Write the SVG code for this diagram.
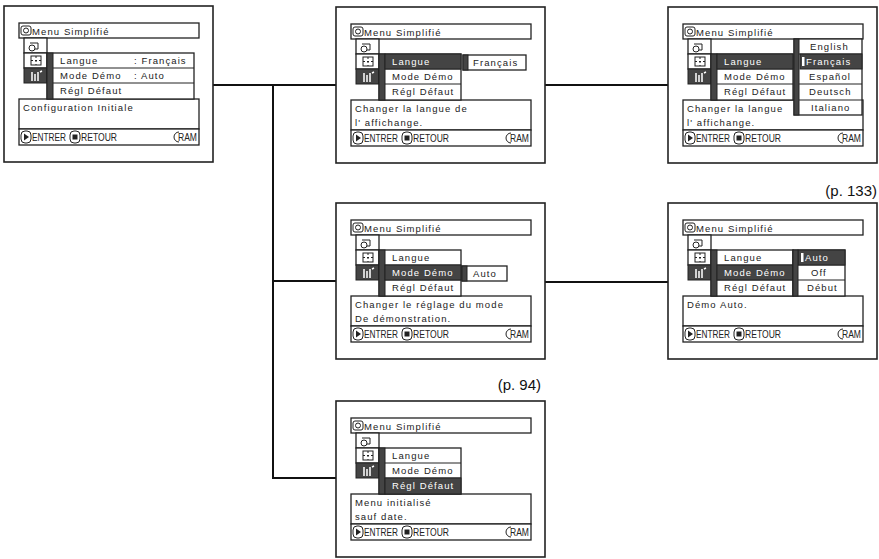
<svg xmlns="http://www.w3.org/2000/svg" xmlns:xlink="http://www.w3.org/1999/xlink" width="879" height="559" viewBox="0 0 879 559">
<style>
.b{fill:#fff;stroke:#222;stroke-width:1.3}
.o{fill:#fff;stroke:#222;stroke-width:1.6}
.d{fill:#444;stroke:#222;stroke-width:1}
.t{font-family:"Liberation Sans",Arial,sans-serif;font-size:9.5px;letter-spacing:1.1px;fill:#222}
.w{fill:#fff}
.f{font-family:"Liberation Sans",Arial,sans-serif;font-size:10.5px;fill:#222}
.c{fill:none;stroke:#111;stroke-width:2}
.p{font-family:"Liberation Sans",Arial,sans-serif;font-size:15px;fill:#111}
</style>
<defs>
<g id="base">
<rect class="o" x="0" y="0" width="209" height="156"/>
<rect class="b" x="15" y="17" width="180" height="15"/>
<rect x="17" y="20" width="10" height="9" rx="2" fill="none" stroke="#222"/>
<circle cx="22" cy="24.5" r="2.5" fill="none" stroke="#222"/>
<text class="t" x="28" y="29">Menu Simplifié</text>
<rect class="b" x="20" y="32" width="23" height="15"/>
<rect class="b" x="20" y="47" width="23" height="15"/>
<rect class="d" x="20" y="62" width="23" height="15"/>
<circle cx="28" cy="42" r="3" fill="none" stroke="#222"/>
<path d="M26 37h8v6h-3" fill="none" stroke="#222"/>
<rect x="27" y="50" width="10" height="9" fill="none" stroke="#222"/>
<path d="M32 50v9M27 54.5h10" stroke="#222" stroke-dasharray="2 2"/>
<path d="M28 66v9M31 68v7M34 66v9M36 66l2-1" stroke="#fff" stroke-width="1.5"/>
<rect class="b" x="15" y="93" width="180" height="30"/>
<rect class="b" x="15" y="123" width="180" height="16"/>
<rect x="17" y="125" width="10" height="12" rx="4" fill="none" stroke="#222"/>
<path d="M20 127.5l5 3.5-5 3.5z" fill="#222"/>
<text class="f" x="28" y="135" textLength="34" lengthAdjust="spacingAndGlyphs">ENTRER</text>
<rect x="66" y="125" width="10" height="12" rx="4" fill="none" stroke="#222"/>
<rect x="68.5" y="128.5" width="5" height="5" fill="#222"/>
<text class="f" x="77" y="135" textLength="36" lengthAdjust="spacingAndGlyphs">RETOUR</text>
<path d="M175 126a5 5 0 1 0 0 10" fill="none" stroke="#222"/>
<text class="f" x="174" y="135" textLength="19" lengthAdjust="spacingAndGlyphs">RAM</text>
</g>
<g id="menu">
<rect class="b" x="43" y="47" width="82" height="46"/>
<line x1="43" y1="62" x2="125" y2="62" stroke="#222"/>
<line x1="43" y1="77" x2="125" y2="77" stroke="#222"/>
<rect class="d" x="43" y="47" width="6" height="46"/>
</g>
</defs>

<g id="connectors">
<path class="c" d="M213 85H336M545 85H668M273 85V478H336M273 281H336M545 282H668"/>
</g>

<g id="s1" transform="translate(4,6)">
<use xlink:href="#base"/>
<rect class="b" x="43" y="47" width="147" height="46"/>
<line x1="43" y1="62" x2="190" y2="62" stroke="#222"/>
<line x1="43" y1="77" x2="190" y2="77" stroke="#222"/>
<rect class="d" x="43" y="47" width="6" height="46"/>
<text class="t" x="56" y="58">Langue</text><text class="t" x="130" y="58">: Français</text>
<text class="t" x="56" y="73">Mode Démo</text><text class="t" x="130" y="73">: Auto</text>
<text class="t" x="56" y="88">Régl Défaut</text>
<text class="t" x="19" y="105">Configuration Initiale</text>
</g>

<g id="s2" transform="translate(336,7)">
<use xlink:href="#base"/>
<use xlink:href="#menu"/>
<rect class="d" x="49" y="47" width="76" height="15"/>
<text class="t w" x="56" y="58">Langue</text>
<text class="t" x="56" y="73">Mode Démo</text>
<text class="t" x="56" y="88">Régl Défaut</text>
<rect class="b" x="127" y="48" width="63" height="15"/>
<rect class="d" x="127" y="48" width="5" height="15"/>
<text class="t" x="137" y="59">Français</text>
<text class="t" x="19" y="105">Changer la langue de</text>
<text class="t" x="19" y="119">l' affichange.</text>
</g>

<g id="s3" transform="translate(668,7)">
<use xlink:href="#base"/>
<use xlink:href="#menu"/>
<rect class="d" x="49" y="47" width="76" height="15"/>
<text class="t w" x="56" y="58">Langue</text>
<text class="t" x="56" y="73">Mode Démo</text>
<text class="t" x="56" y="88">Régl Défaut</text>
<rect class="b" x="126" y="32" width="68" height="76"/>
<line x1="126" y1="47" x2="194" y2="47" stroke="#222"/>
<line x1="126" y1="77" x2="194" y2="77" stroke="#222"/>
<line x1="126" y1="93" x2="194" y2="93" stroke="#222"/>
<rect class="d" x="132" y="47" width="62" height="15"/>
<rect class="d" x="126" y="32" width="5" height="76"/>
<text class="t" x="142" y="43">English</text>
<rect x="134" y="50" width="2.5" height="9" fill="#fff"/>
<text class="t w" x="138" y="58">Français</text>
<text class="t" x="141" y="73">Español</text>
<text class="t" x="141" y="88">Deutsch</text>
<text class="t" x="143" y="104">Italiano</text>
<text class="t" x="19" y="105">Changer la langue</text>
<text class="t" x="19" y="119">l' affichange.</text>
</g>

<g id="s4" transform="translate(336,203)">
<use xlink:href="#base"/>
<use xlink:href="#menu"/>
<rect class="d" x="49" y="62" width="76" height="15"/>
<text class="t" x="56" y="58">Langue</text>
<text class="t w" x="56" y="73">Mode Démo</text>
<text class="t" x="56" y="88">Régl Défaut</text>
<rect class="b" x="126" y="63" width="45" height="15"/>
<rect class="d" x="126" y="63" width="5" height="15"/>
<text class="t" x="137" y="74">Auto</text>
<text class="t" x="19" y="105">Changer le réglage du mode</text>
<text class="t" x="19" y="119">De démonstration.</text>
</g>

<text class="p" x="877" y="196" text-anchor="end">(p. 133)</text>

<g id="s5" transform="translate(668,203)">
<use xlink:href="#base"/>
<use xlink:href="#menu"/>
<rect class="d" x="49" y="62" width="76" height="15"/>
<text class="t" x="56" y="58">Langue</text>
<text class="t w" x="56" y="73">Mode Démo</text>
<text class="t" x="56" y="88">Régl Défaut</text>
<rect class="b" x="125" y="47" width="52" height="46"/>
<line x1="125" y1="62" x2="177" y2="62" stroke="#222"/>
<line x1="125" y1="77" x2="177" y2="77" stroke="#222"/>
<rect class="d" x="130" y="47" width="47" height="15"/>
<rect class="d" x="125" y="47" width="5" height="46"/>
<rect x="133" y="50" width="2.5" height="9" fill="#fff"/>
<text class="t w" x="137" y="58">Auto</text>
<text class="t" x="143" y="73">Off</text>
<text class="t" x="139" y="88">Début</text>
<text class="t" x="19" y="105">Démo Auto.</text>
</g>

<text class="p" x="541" y="390" text-anchor="end">(p. 94)</text>

<g id="s6" transform="translate(336,401)">
<use xlink:href="#base"/>
<use xlink:href="#menu"/>
<rect class="d" x="49" y="77" width="76" height="16"/>
<text class="t" x="56" y="58">Langue</text>
<text class="t" x="56" y="73">Mode Démo</text>
<text class="t w" x="56" y="88">Régl Défaut</text>
<text class="t" x="19" y="105">Menu initialisé</text>
<text class="t" x="19" y="119">sauf date.</text>
</g>
</svg>
